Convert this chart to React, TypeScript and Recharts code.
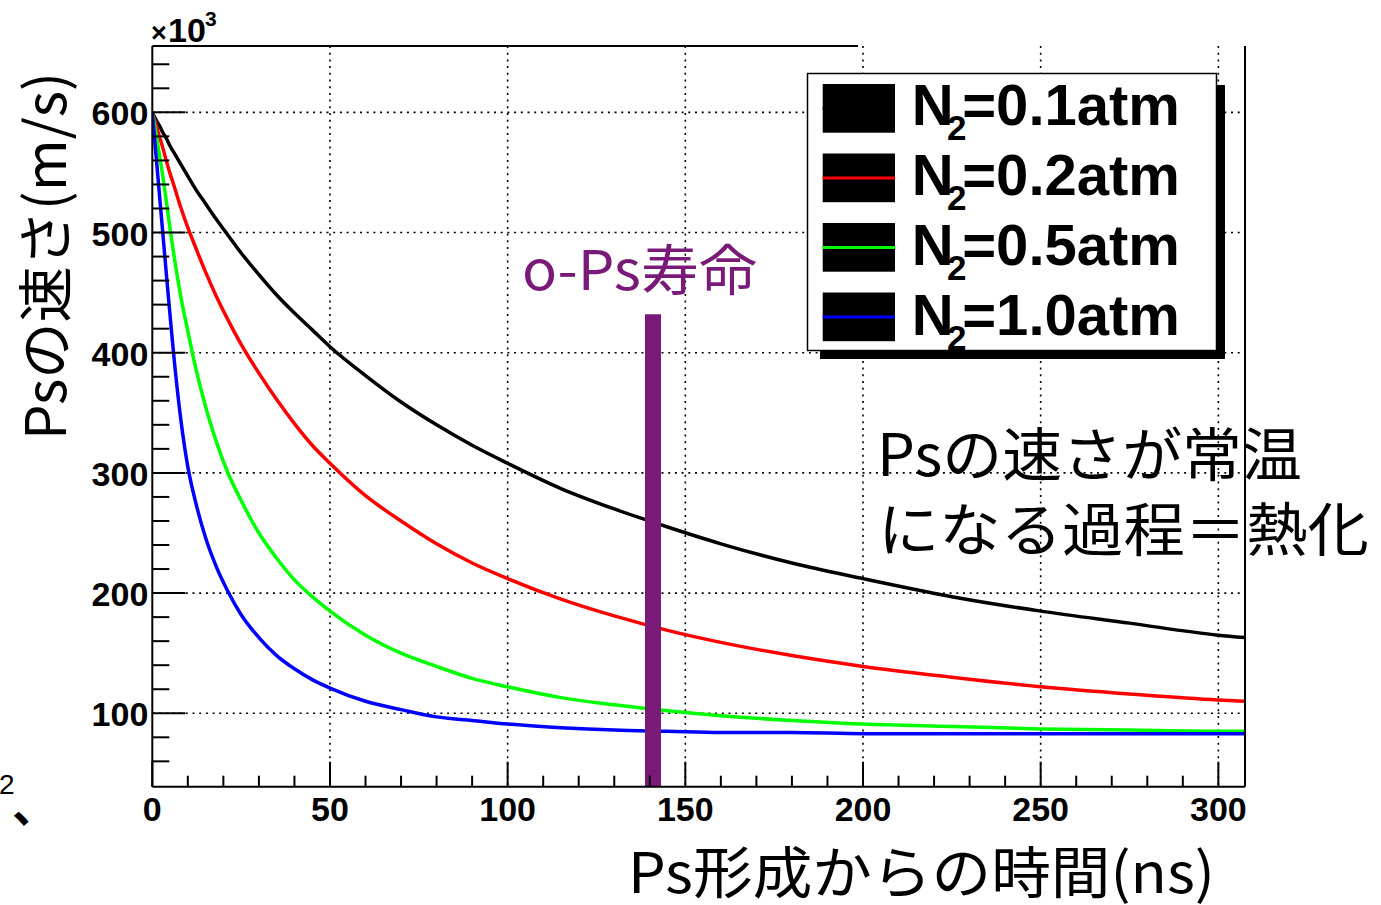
import { LineChart, Line, XAxis, YAxis, CartesianGrid, ReferenceLine } from "recharts";

// time after Ps formation (ns)
const TIMES = [0, 1, 2, 3, 4, 5, 6, 8, 10, 12, 15, 18, 21, 25, 30, 35, 40, 45, 50, 60, 70, 80, 90, 100, 115, 130, 145, 160, 180, 200, 225, 250, 275, 300, 307.5];

// Ps speed (x10^3 m/s) for each N2 pressure
const N2_01 = [600, 594, 589, 583, 578, 572, 567, 557, 547, 537, 524, 511, 499, 483, 465, 448, 433, 419, 405, 381, 359, 340, 323, 308, 287, 270, 255, 241, 225, 212, 197, 185, 175, 165, 163];
const N2_02 = [600, 590, 580, 570, 559, 549, 540, 521, 504, 489, 467, 447, 429, 407, 383, 361, 341, 323, 308, 281, 260, 241, 225, 212, 195, 181, 169, 159, 148, 139, 130, 122, 116, 111, 110];
const N2_05 = [600, 583, 565, 546, 525, 503, 483, 447, 418, 390, 355, 326, 302, 277, 250, 229, 211, 197, 185, 165, 150, 139, 129, 122, 113, 107, 102, 98, 94, 91, 89, 87, 86, 85, 85];
const N2_10 = [600, 566, 532, 498, 464, 431, 399, 345, 305, 278, 246, 222, 203, 182, 163, 148, 137, 128, 121, 110, 103, 97, 94, 91, 88, 86, 85, 84, 84, 83, 83, 83, 83, 83, 83];

const SERIES = [
  { key: "p01", pressure: "0.1", color: "#000000", values: N2_01 },
  { key: "p02", pressure: "0.2", color: "#ff0000", values: N2_02 },
  { key: "p05", pressure: "0.5", color: "#00ff00", values: N2_05 },
  { key: "p10", pressure: "1.0", color: "#0000ff", values: N2_10 },
];

const X_TICKS = Array.from({ length: 31 }, (_, i) => i * 10);
const Y_TICKS = [60, 80, 100, 120, 140, 160, 180, 200, 220, 240, 260, 280, 300, 320, 340, 360, 380, 400, 420, 440, 460, 480, 500, 520, 540, 560, 580, 600, 620, 640];
const X_GRID = [50, 100, 150, 200, 250, 300];
const Y_GRID = [100, 200, 300, 400, 500, 600];
const X_DOMAIN = [0, 307.5];
const Y_DOMAIN = [38.9, 655.2];

// o-Ps lifetime marker
const OPS_LIFETIME = 140.9;
const OPS_BAR_TOP = 432;
const TOP_FRAME_END = 198.6;

const data = TIMES.map((t, i) => {
  const row: Record<string, number> = { t };
  SERIES.forEach((s) => (row[s.key] = s.values[i]));
  return row;
});

const PLOT = { left: 152.3, top: 46, right: 1245, bottom: 786.7 };
const W = 1381;
const H = 905;
const Y_AXIS_W = 60;
const X_AXIS_H = 30;

const SANS = "'Liberation Sans', Arial, Helvetica, sans-serif";
const JP = "'Noto Sans CJK JP', 'Noto Sans', sans-serif";
const PURPLE = "#7a1a78";

function XTick(props: any) {
  const { x, payload } = props;
  const v = payload.value;
  const major = v % 50 === 0;
  return (
    <g>
      <line x1={x} x2={x} y1={PLOT.bottom} y2={PLOT.bottom - (major ? 25 : 11)} stroke="#000" strokeWidth={2} />
      {major && (
        <text
          x={x}
          y={PLOT.bottom + 34}
          textAnchor="middle"
          fontFamily={SANS}
          fontWeight={700}
          fontSize={34}
          fill="#000"
        >
          {v}
        </text>
      )}
    </g>
  );
}

function YTick(props: any) {
  const { y, payload } = props;
  const v = payload.value;
  const major = v % 100 === 0;
  return (
    <g>
      <line x1={PLOT.left} x2={PLOT.left + (major ? 33 : 17)} y1={y} y2={y} stroke="#000" strokeWidth={2} />
      {major && (
        <text
          x={PLOT.left - 4}
          y={y + 13}
          textAnchor="end"
          fontFamily={SANS}
          fontWeight={700}
          fontSize={34}
          fill="#000"
        >
          {v}
        </text>
      )}
    </g>
  );
}

function Overlay() {
  return (
    <svg width={W} height={H} style={{ position: "absolute", left: 0, top: 0, pointerEvents: "none" }}>
      {/* exponent */}
      <text x={151} y={42} fontFamily={SANS} fontWeight={700} fontSize={27}>
        ×
      </text>
      <text x={168} y={42} fontFamily={SANS} fontWeight={700} fontSize={34}>
        10
      </text>
      <text x={205} y={26} fontFamily={SANS} fontWeight={700} fontSize={21}>
        3
      </text>

      {/* axis titles */}
      <text
        transform="translate(66,440) rotate(-90)"
        fontFamily={JP}
        fontSize={56}
        textLength={368}
        lengthAdjust="spacingAndGlyphs"
      >
        Psの速さ(m/s)
      </text>
      <text x={628} y={893} fontFamily={JP} fontSize={56} textLength={587} lengthAdjust="spacingAndGlyphs">
        Ps形成からの時間(ns)
      </text>

      {/* annotations */}
      <text x={522} y={290} fontFamily={JP} fontSize={55} fill={PURPLE} textLength={235} lengthAdjust="spacingAndGlyphs">
        o-Ps寿命
      </text>
      <text x={877} y={476} fontFamily={JP} fontSize={58} textLength={425} lengthAdjust="spacingAndGlyphs">
        Psの速さが常温
      </text>
      <text x={878} y={551} fontFamily={JP} fontSize={58} textLength={491} lengthAdjust="spacingAndGlyphs">
        になる過程＝熱化
      </text>

      {/* stray marks at lower left */}
      <text x={-1} y={794} fontFamily={SANS} fontSize={28}>
        2
      </text>
      <text x={12} y={822} fontFamily={JP} fontWeight={700} fontSize={46}>
        、
      </text>

      {/* legend */}
      <rect x={820} y={85} width={405} height={274} fill="#000" />
      <rect x={807.5} y={73.5} width={409} height={277} fill="#fff" stroke="#000" strokeWidth={1.5} />
      {SERIES.map((s, i) => {
        const top = 84 + i * 69.5;
        const base = 125 + i * 70;
        return (
          <g key={s.key}>
            <rect x={822.7} y={top} width={72.3} height={48.7} fill="#000" />
            <line x1={822.7} x2={895} y1={top + 24.4} y2={top + 24.4} stroke={s.color} strokeWidth={3} />
            <text x={911.7} y={base} fontFamily={SANS} fontWeight={700} fontSize={58}>
              N
              <tspan fontSize={35} dx={-6.5} dy={15}>
                2
              </tspan>
              <tspan fontSize={58} dx={-4.3} dy={-15}>
                {`=${s.pressure}atm`}
              </tspan>
            </text>
          </g>
        );
      })}
    </svg>
  );
}

export default function App() {
  return (
    <div style={{ position: "absolute", left: 0, top: 0, width: W, height: H, background: "#fff" }}>
      <LineChart
        width={W}
        height={H}
        data={data}
        margin={{
          top: PLOT.top,
          right: W - PLOT.right,
          bottom: H - PLOT.bottom - X_AXIS_H,
          left: PLOT.left - Y_AXIS_W,
        }}
      >
        <CartesianGrid
          horizontalValues={Y_GRID}
          verticalValues={X_GRID}
          stroke="#000"
          strokeWidth={1.6}
          strokeDasharray="2 4.7"
        />
        <XAxis
          dataKey="t"
          type="number"
          domain={X_DOMAIN}
          ticks={X_TICKS}
          interval={0}
          height={X_AXIS_H}
          allowDataOverflow
          tickLine={false}
          axisLine={{ stroke: "#000", strokeWidth: 2 }}
          tick={(p: any) => <XTick {...p} />}
        />
        <YAxis
          type="number"
          domain={Y_DOMAIN}
          ticks={Y_TICKS}
          interval={0}
          width={Y_AXIS_W}
          allowDataOverflow
          tickLine={false}
          axisLine={{ stroke: "#000", strokeWidth: 2 }}
          tick={(p: any) => <YTick {...p} />}
        />
        {SERIES.map((s) => (
          <Line
            key={s.key}
            type="monotone"
            dataKey={s.key}
            stroke={s.color}
            strokeWidth={3.5}
            dot={false}
            isAnimationActive={false}
          />
        ))}
        <ReferenceLine x={X_DOMAIN[1]} stroke="#000" strokeWidth={2} />
        <ReferenceLine
          segment={[
            { x: 0, y: Y_DOMAIN[1] },
            { x: TOP_FRAME_END, y: Y_DOMAIN[1] },
          ]}
          stroke="#000"
          strokeWidth={2}
        />
        <ReferenceLine
          segment={[
            { x: OPS_LIFETIME, y: Y_DOMAIN[0] },
            { x: OPS_LIFETIME, y: OPS_BAR_TOP },
          ]}
          stroke={PURPLE}
          strokeWidth={16}
        />
      </LineChart>
      <Overlay />
    </div>
  );
}
